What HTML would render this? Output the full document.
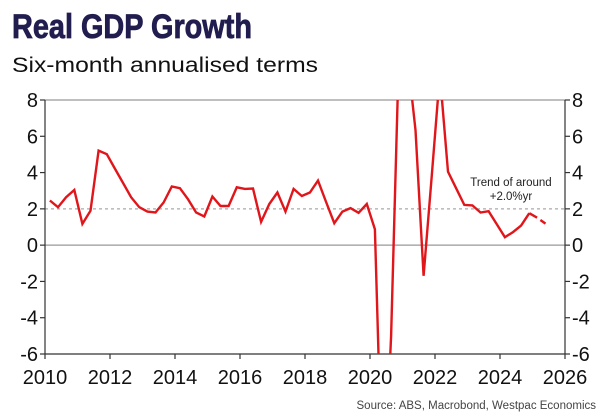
<!DOCTYPE html>
<html><head><meta charset="utf-8"><style>
html,body{margin:0;padding:0;background:#fff;width:609px;height:418px;overflow:hidden;position:relative;}
svg{display:block;position:absolute;left:0;top:0;font-family:"Liberation Sans",sans-serif;}
</style></head><body><svg id="chart" width="609" height="418" viewBox="0 0 609 418">
<text x="12" y="38" font-family="'Liberation Sans Narrow','Liberation Sans',sans-serif" font-weight="bold" font-size="34" fill="#211d4f" stroke="#211d4f" stroke-width="0.8" textLength="240" lengthAdjust="spacingAndGlyphs">Real GDP Growth</text>
<text x="12" y="72" font-size="21" fill="#111" textLength="306" lengthAdjust="spacingAndGlyphs">Six-month annualised terms</text>
<g id="axes"></g>
<g id="series"></g>
<text x="511" y="186" font-size="11.5" fill="#222" text-anchor="middle">Trend of around</text>
<text x="511" y="200" font-size="11.5" fill="#222" text-anchor="middle">+2.0%yr</text>
<text x="596" y="409" font-size="11.5" fill="#444" text-anchor="end">Source: ABS, Macrobond, Westpac Economics</text>
</svg><script>
const yTicks = [8,6,4,2,0,-2,-4,-6];
const xTicks = [2010,2012,2014,2016,2018,2020,2022,2024,2026];
const trendValue = 2.0;
const startYear = 2010.15;
const growth = [2.46,2.09,2.64,3.04,1.17,1.9,5.21,5.01,4.22,3.43,2.64,2.09,1.85,1.80,2.35,3.23,3.14,2.53,1.80,1.58,2.68,2.16,2.16,3.19,3.10,3.12,1.28,2.27,2.90,1.85,3.10,2.71,2.90,3.56,2.38,1.21,1.85,2.04,1.78,2.27,0.88,-14.7,-5,11.4,10.4,6.34,-1.69,3.85,9.4,4.05,3.14,2.22,2.19,1.80,1.87,1.15,0.44,0.72,1.08,1.76];
const forecast = [1.76,1.50,1.19];

const NS='http://www.w3.org/2000/svg';
const L=45,R=565,T=100,B=354;
const x=y=>L+(y-2010)/16*(R-L);
const yv=v=>T+(8-v)/14*(B-T);
const axes=document.getElementById('axes'), ser=document.getElementById('series');
function mk(tag,attrs,parent){const e=document.createElementNS(NS,tag);for(const k in attrs)e.setAttribute(k,attrs[k]);parent.appendChild(e);return e;}

// build path clipped to plot's vertical range, as separate subpaths
function clippedPath(vals, offset){
  let d='', pen=false;
  for(let i=0;i<vals.length-1;i++){
    let x0=x(startYear+(offset+i)*0.25), y0=yv(vals[i]);
    let x1=x(startYear+(offset+i+1)*0.25), y1=yv(vals[i+1]);
    let t0=0,t1=1,dy=y1-y0;
    if(dy!==0){
      let ta=(T-y0)/dy, tb=(B-y0)/dy;
      t0=Math.max(t0,Math.min(ta,tb)); t1=Math.min(t1,Math.max(ta,tb));
    } else if(y0<T||y0>B){ pen=false; continue; }
    if(t0>t1){ pen=false; continue; }
    const ax=x0+(x1-x0)*t0, ay=y0+dy*t0, bx=x0+(x1-x0)*t1, by=y0+dy*t1;
    if(!pen || t0>0) d+='M'+ax.toFixed(1)+','+ay.toFixed(1);
    d+='L'+bx.toFixed(1)+','+by.toFixed(1);
    pen = t1>=1;
  }
  return d;
}

let e=mk('line',{x1:L,x2:R,y1:T,y2:T,stroke:'#999','stroke-width':1.2},axes);


e=mk('line',{x1:L,x2:R,y1:yv(0),y2:yv(0),stroke:'#999','stroke-width':1.2},axes);


e=mk('line',{x1:L,x2:R,y1:yv(trendValue),y2:yv(trendValue),stroke:'#aaa','stroke-width':1.3,'stroke-dasharray':'3,3'},axes);


e=mk('line',{x1:L,x2:L,y1:T,y2:B,stroke:'#333','stroke-width':1.2},axes);


e=mk('line',{x1:R,x2:R,y1:T,y2:B,stroke:'#333','stroke-width':1.2},axes);


e=mk('line',{x1:L,x2:R,y1:B,y2:B,stroke:'#333','stroke-width':1.2},axes);


yTicks.forEach(v=>{
  const yy=yv(v);
  mk('line',{x1:L-5,x2:L,y1:yy,y2:yy,stroke:'#333','stroke-width':1.2},axes);
  mk('line',{x1:R,x2:R+5,y1:yy,y2:yy,stroke:'#333','stroke-width':1.2},axes);
  let t=mk('text',{x:38,y:yy+7,'font-size':20,'text-anchor':'end',fill:'#111'},axes);
  t.textContent=v;
  
  
  t=mk('text',{x:572,y:yy+7,'font-size':20,'text-anchor':'start',fill:'#111'},axes);
  t.textContent=v;
  
  
});
xTicks.forEach(yr=>{
  const xx=x(yr);
  mk('line',{x1:xx,x2:xx,y1:B,y2:B+5,stroke:'#333','stroke-width':1.2},axes);
  const t=mk('text',{x:xx,y:384,'font-size':20,'text-anchor':'middle',fill:'#111'},axes);
  t.textContent=yr;
  
  
});
e=mk('path',{d:clippedPath(growth,0),fill:'none',stroke:'#e0161b','stroke-width':2.4,'stroke-linejoin':'miter'},ser);


e=mk('path',{d:clippedPath(forecast,growth.length-1),fill:'none',stroke:'#e0161b','stroke-width':2.4,'stroke-dasharray':'9,4'},ser);


</script></body></html>
